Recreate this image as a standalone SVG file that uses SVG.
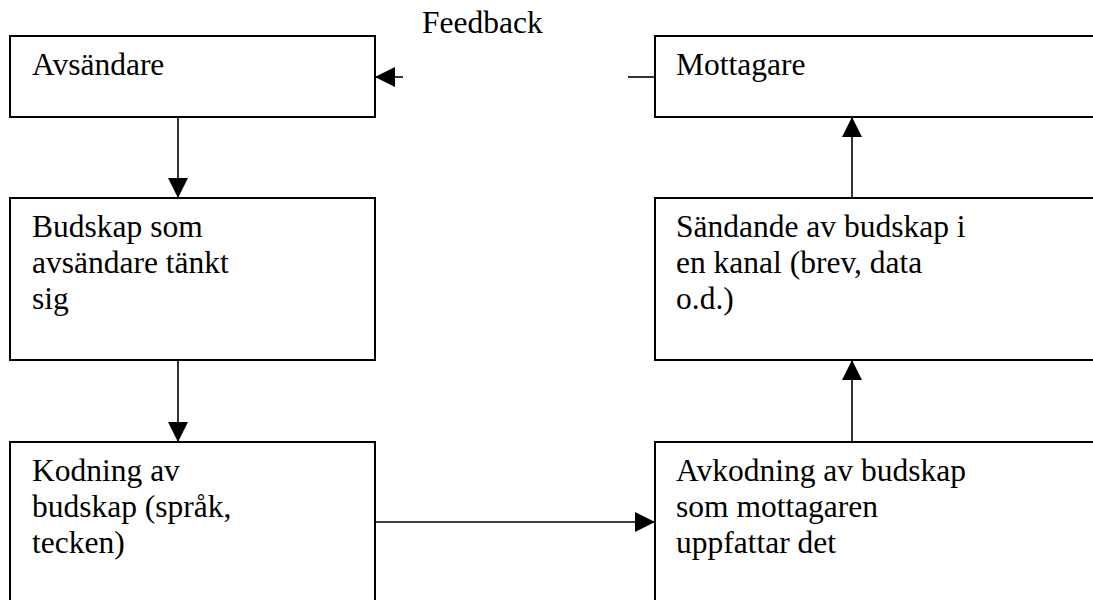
<svg xmlns="http://www.w3.org/2000/svg" width="1093" height="600" viewBox="0 0 1093 600">
  <style>
    .box { fill: #ffffff; stroke: #000000; stroke-width: 2; }
    .lbl { font-family: "Liberation Serif", "Times New Roman", serif; font-size: 31.5px; fill: #000000; }
    .con { fill: none; stroke: #000000; stroke-width: 1.6; }
  </style>
  <defs>
    <marker id="arrow" markerUnits="userSpaceOnUse" markerWidth="20" markerHeight="20" viewBox="0 0 20 20" refX="20" refY="10" orient="auto">
      <path d="M0,0 L20,10 L0,20 Z" fill="#000000"/>
    </marker>
  </defs>
  <rect width="1093" height="600" fill="#ffffff"/>

  <g id="node-avsandare">
    <rect class="box" x="10" y="36" width="365" height="81"/>
    <text class="lbl" x="32" y="75">Avsändare</text>
  </g>
  <g id="node-budskap">
    <rect class="box" x="10" y="198" width="365" height="162"/>
    <text class="lbl" x="32" y="237">Budskap som</text>
    <text class="lbl" x="32" y="273">avsändare tänkt</text>
    <text class="lbl" x="32" y="309">sig</text>
  </g>
  <g id="node-kodning">
    <rect class="box" x="10" y="442" width="365" height="180"/>
    <text class="lbl" x="32" y="481">Kodning av</text>
    <text class="lbl" x="32" y="517">budskap (språk,</text>
    <text class="lbl" x="32" y="553">tecken)</text>
  </g>
  <g id="node-mottagare">
    <rect class="box" x="655" y="36" width="460" height="81"/>
    <text class="lbl" x="676" y="75">Mottagare</text>
  </g>
  <g id="node-sandande">
    <rect class="box" x="655" y="198" width="460" height="162"/>
    <text class="lbl" x="676" y="237">Sändande av budskap i</text>
    <text class="lbl" x="676" y="273">en kanal (brev, data</text>
    <text class="lbl" x="676" y="309">o.d.)</text>
  </g>
  <g id="node-avkodning">
    <rect class="box" x="655" y="442" width="460" height="180"/>
    <text class="lbl" x="676" y="481">Avkodning av budskap</text>
    <text class="lbl" x="676" y="517">som mottagaren</text>
    <text class="lbl" x="676" y="553">uppfattar det</text>
  </g>

  <g id="connectors">
    <line class="con" x1="178" y1="117" x2="178" y2="198" marker-end="url(#arrow)"/>
    <line class="con" x1="178" y1="360" x2="178" y2="442" marker-end="url(#arrow)"/>
    <line class="con" x1="375" y1="522" x2="655" y2="522" marker-end="url(#arrow)"/>
    <line class="con" x1="852" y1="442" x2="852" y2="360" marker-end="url(#arrow)"/>
    <line class="con" x1="852" y1="198" x2="852" y2="117" marker-end="url(#arrow)"/>
    <line class="con" x1="403" y1="77" x2="375" y2="77" marker-end="url(#arrow)"/>
    <line class="con" x1="628" y1="77" x2="655" y2="77"/>
    <text class="lbl" x="422" y="33">Feedback</text>
  </g>
</svg>
